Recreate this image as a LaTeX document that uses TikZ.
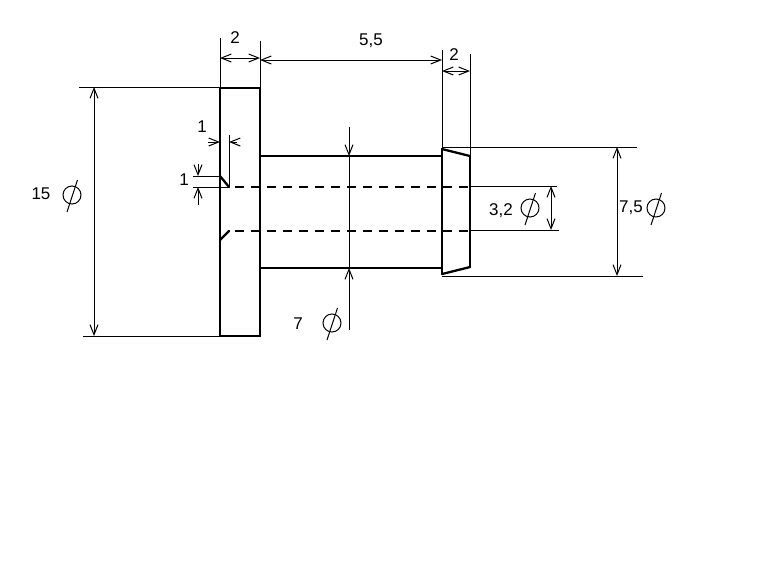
\documentclass[tikz,border=0pt]{standalone}
\usepackage{fontspec}
\setmainfont{Liberation Sans}
\usetikzlibrary{arrows.meta}

\begin{document}
\begin{tikzpicture}[x=1pt, y=-1pt]
    \tikzset{Part/.style={line width=2.3pt, line cap=round, line join=miter}}
    \tikzset{Hidden/.style={line width=1.8pt, dash pattern=on 9pt off 7pt}}
    \tikzset{Thin/.style={line width=1pt}}
    \tikzset{Dim/.style={Thin, {Straight Barb[length=10pt,width=8pt]}-{Straight Barb[length=10pt,width=8pt]}}}
    \tikzset{DimEnd/.style={Thin, -{Straight Barb[length=10pt,width=8pt]}}}
    \tikzset{Label/.style={font=\fontsize{17}{17}\selectfont, inner sep=0pt}}
    \tikzset{PhiMark/.style={draw, circle, Thin, minimum size=18pt, inner sep=0pt}}
    \useasboundingbox (0,0) rectangle (768,576);

    % flange, shaft, head
    \draw[Part] (220,88) rectangle (260,336);
    \draw[Part] (260,156) -- (442,156);
    \draw[Part] (260,268) -- (442,268);
    \draw[Part] (442,149) -- (442,274);
    \draw[Part] (470,156) -- (470,267);
    \draw[Part] (442,149) -- (470,156);
    \draw[Part] (442,274) -- (470,267);

    % bore
    \draw[Part] (220,176) -- (229,187);
    \draw[Part] (220,240) -- (229,231);
    \draw[Hidden] (235,187) -- (470,187);
    \draw[Hidden] (235,231) -- (470,231);

    % extension lines
    \draw[Thin] (220,38) -- (220,88);
    \draw[Thin] (260,41) -- (260,88);
    \draw[Thin] (442,50) -- (442,149);
    \draw[Thin] (470,54) -- (470,156);
    \draw[Thin] (79,87) -- (220,87);
    \draw[Thin] (83,336) -- (220,336);
    \draw[Thin] (442,147) -- (637,147);
    \draw[Thin] (442,276) -- (643,276);
    \draw[Thin] (470,186) -- (557,186);
    \draw[Thin] (470,230) -- (559,230);
    \draw[Thin] (229,135) -- (229,187);
    \draw[Thin] (193,176) -- (220,176);
    \draw[Thin] (193,187) -- (229,187);

    % dimensions
    \draw[Dim] (220,58) -- (260,58);
    \draw[Dim] (260,60) -- (442,60);
    \draw[Dim] (442,71) -- (470,71);
    \draw[Dim] (94,87) -- (94,336);
    \draw[Dim] (617,147) -- (617,276);
    \draw[Dim] (551,186) -- (551,230);
    \draw[Thin] (349,156) -- (349,268);
    \draw[DimEnd] (349,127) -- (349,156);
    \draw[DimEnd] (349,330) -- (349,268);
    \draw[DimEnd] (208,142) -- (220,142);
    \draw[DimEnd] (237,142) -- (229,142);
    \draw[DimEnd] (198,164) -- (198,176);
    \draw[DimEnd] (198,205) -- (198,187);

    % labels
    \node[Label] (top2) at (235,38) {2};
    \node[Label] (top55) at (371,41) {5,5};
    \node[Label] (head2) at (454,55) {2};
    \node[Label] (chamferX) at (202,127) {1};
    \node[Label] (chamferY) at (184,180) {1};
    \node[Label] (d15) at (41,194) {15};
    \node[Label] (d32) at (501,211) {3,2};
    \node[Label] (d75) at (631,208) {7,5};
    \node[Label] (d7) at (298,324) {7};

    % diameter marks
    \foreach \px/\py in {72/195, 530/208, 656/208, 332/323} {
        \node[PhiMark] (phi\px) at (\px,\py) {};
        \draw[Thin] (\px+5.5,\py-15) -- (\px-5,\py+17);
    }
\end{tikzpicture}
\end{document}
